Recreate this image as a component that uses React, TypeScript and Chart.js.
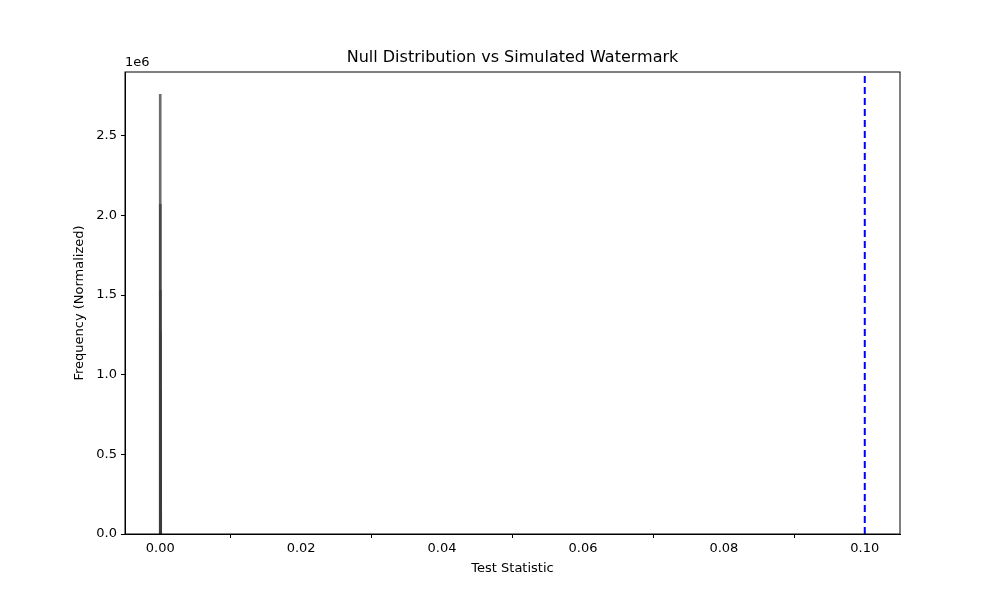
import React, { useEffect, useRef } from 'react';
import Chart from 'chart.js/auto';

// null distribution histogram bins (all piled up next to 0)
const binCenters = [0.00000, 0.00001, 0.00002, 0.00003, 0.00004, 0.00005, 0.00006, 0.00007];
const binCounts = [2760000, 2070000, 1530000, 1270000, 900000, 600000, 350000, 150000];
const watermarkStat = 0.1;
const xTicks = [0, 0.02, 0.04, 0.06, 0.08, 0.1];
const yTicks = [0, 500000, 1000000, 1500000, 2000000, 2500000];

const FONT = 'DejaVu Sans';

export default function App() {
  const canvasRef = useRef<HTMLCanvasElement>(null);

  useEffect(() => {
    if (!canvasRef.current) return;
    const titles = {
      id: 'titles',
      afterDraw(chart: any) {
        const { ctx, chartArea } = chart;
        const { left, right, top, bottom } = chartArea;
        ctx.save();
        ctx.strokeStyle = '#000';
        ctx.lineWidth = 1;
        ctx.strokeRect(left, top, right - left, bottom - top);
        ctx.fillStyle = '#000';
        ctx.font = `16px ${FONT}`;
        ctx.textAlign = 'center';
        ctx.textBaseline = 'middle';
        ctx.fillText('Null Distribution vs Simulated Watermark', (left + right) / 2, 58);
        ctx.font = `13px ${FONT}`;
        ctx.fillText('Test Statistic', (left + right) / 2, 569);
        ctx.save();
        ctx.translate(80, (top + bottom) / 2);
        ctx.rotate(-Math.PI / 2);
        ctx.fillText('Frequency (Normalized)', 0, 0);
        ctx.restore();
        ctx.textAlign = 'left';
        ctx.fillText('1e6', left, 63);
        ctx.restore();
      },
    };
    const chart = new Chart(canvasRef.current, {
      type: 'bar',
      data: {
        datasets: [
          {
            type: 'bar',
            data: binCenters.map((x, i) => ({ x, y: binCounts[i] })),
            backgroundColor: 'rgba(60,60,60,0.75)',
            borderWidth: 0,
            barThickness: 2,
            grouped: false,
          } as any,
          {
            type: 'line',
            data: [{ x: watermarkStat, y: 0 }, { x: watermarkStat, y: 2900000 }],
            borderColor: '#0000ff',
            borderWidth: 2,
            borderDash: [7, 4],
            pointRadius: 0,
          } as any,
        ],
      },
      options: {
        animation: false,
        responsive: false,
        layout: { padding: { top: 72, right: 100, left: 0, bottom: 0 } },
        plugins: { legend: { display: false }, tooltip: { enabled: false }, title: { display: false } },
        scales: {
          x: {
            type: 'linear',
            min: -0.005,
            max: 0.105,
            offset: false,
            grid: { drawOnChartArea: false, color: '#000', tickLength: 4 },
            border: { color: '#000' },
            afterBuildTicks: (s: any) => { s.ticks = xTicks.map((v) => ({ value: v })); },
            afterFit: (s: any) => { s.height = 66; },
            ticks: { color: '#000', padding: 3, font: { family: FONT, size: 13 }, callback: (v: any) => Number(v).toFixed(2) },
          },
          y: {
            min: 0,
            max: 2900000,
            grid: { drawOnChartArea: false, color: '#000', tickLength: 4 },
            border: { color: '#000' },
            afterBuildTicks: (s: any) => { s.ticks = yTicks.map((v) => ({ value: v })); },
            afterFit: (s: any) => { s.width = 125; },
            ticks: { color: '#000', padding: 4, font: { family: FONT, size: 13 }, callback: (v: any) => (Number(v) / 1e6).toFixed(1) },
          },
        },
      },
      plugins: [titles],
    });
    return () => chart.destroy();
  }, []);

  return (
    <div style={{ position: 'fixed', left: 0, top: 0, width: 1000, height: 600, background: '#fff' }}>
      <canvas ref={canvasRef} width={1000} height={600} />
    </div>
  );
}
